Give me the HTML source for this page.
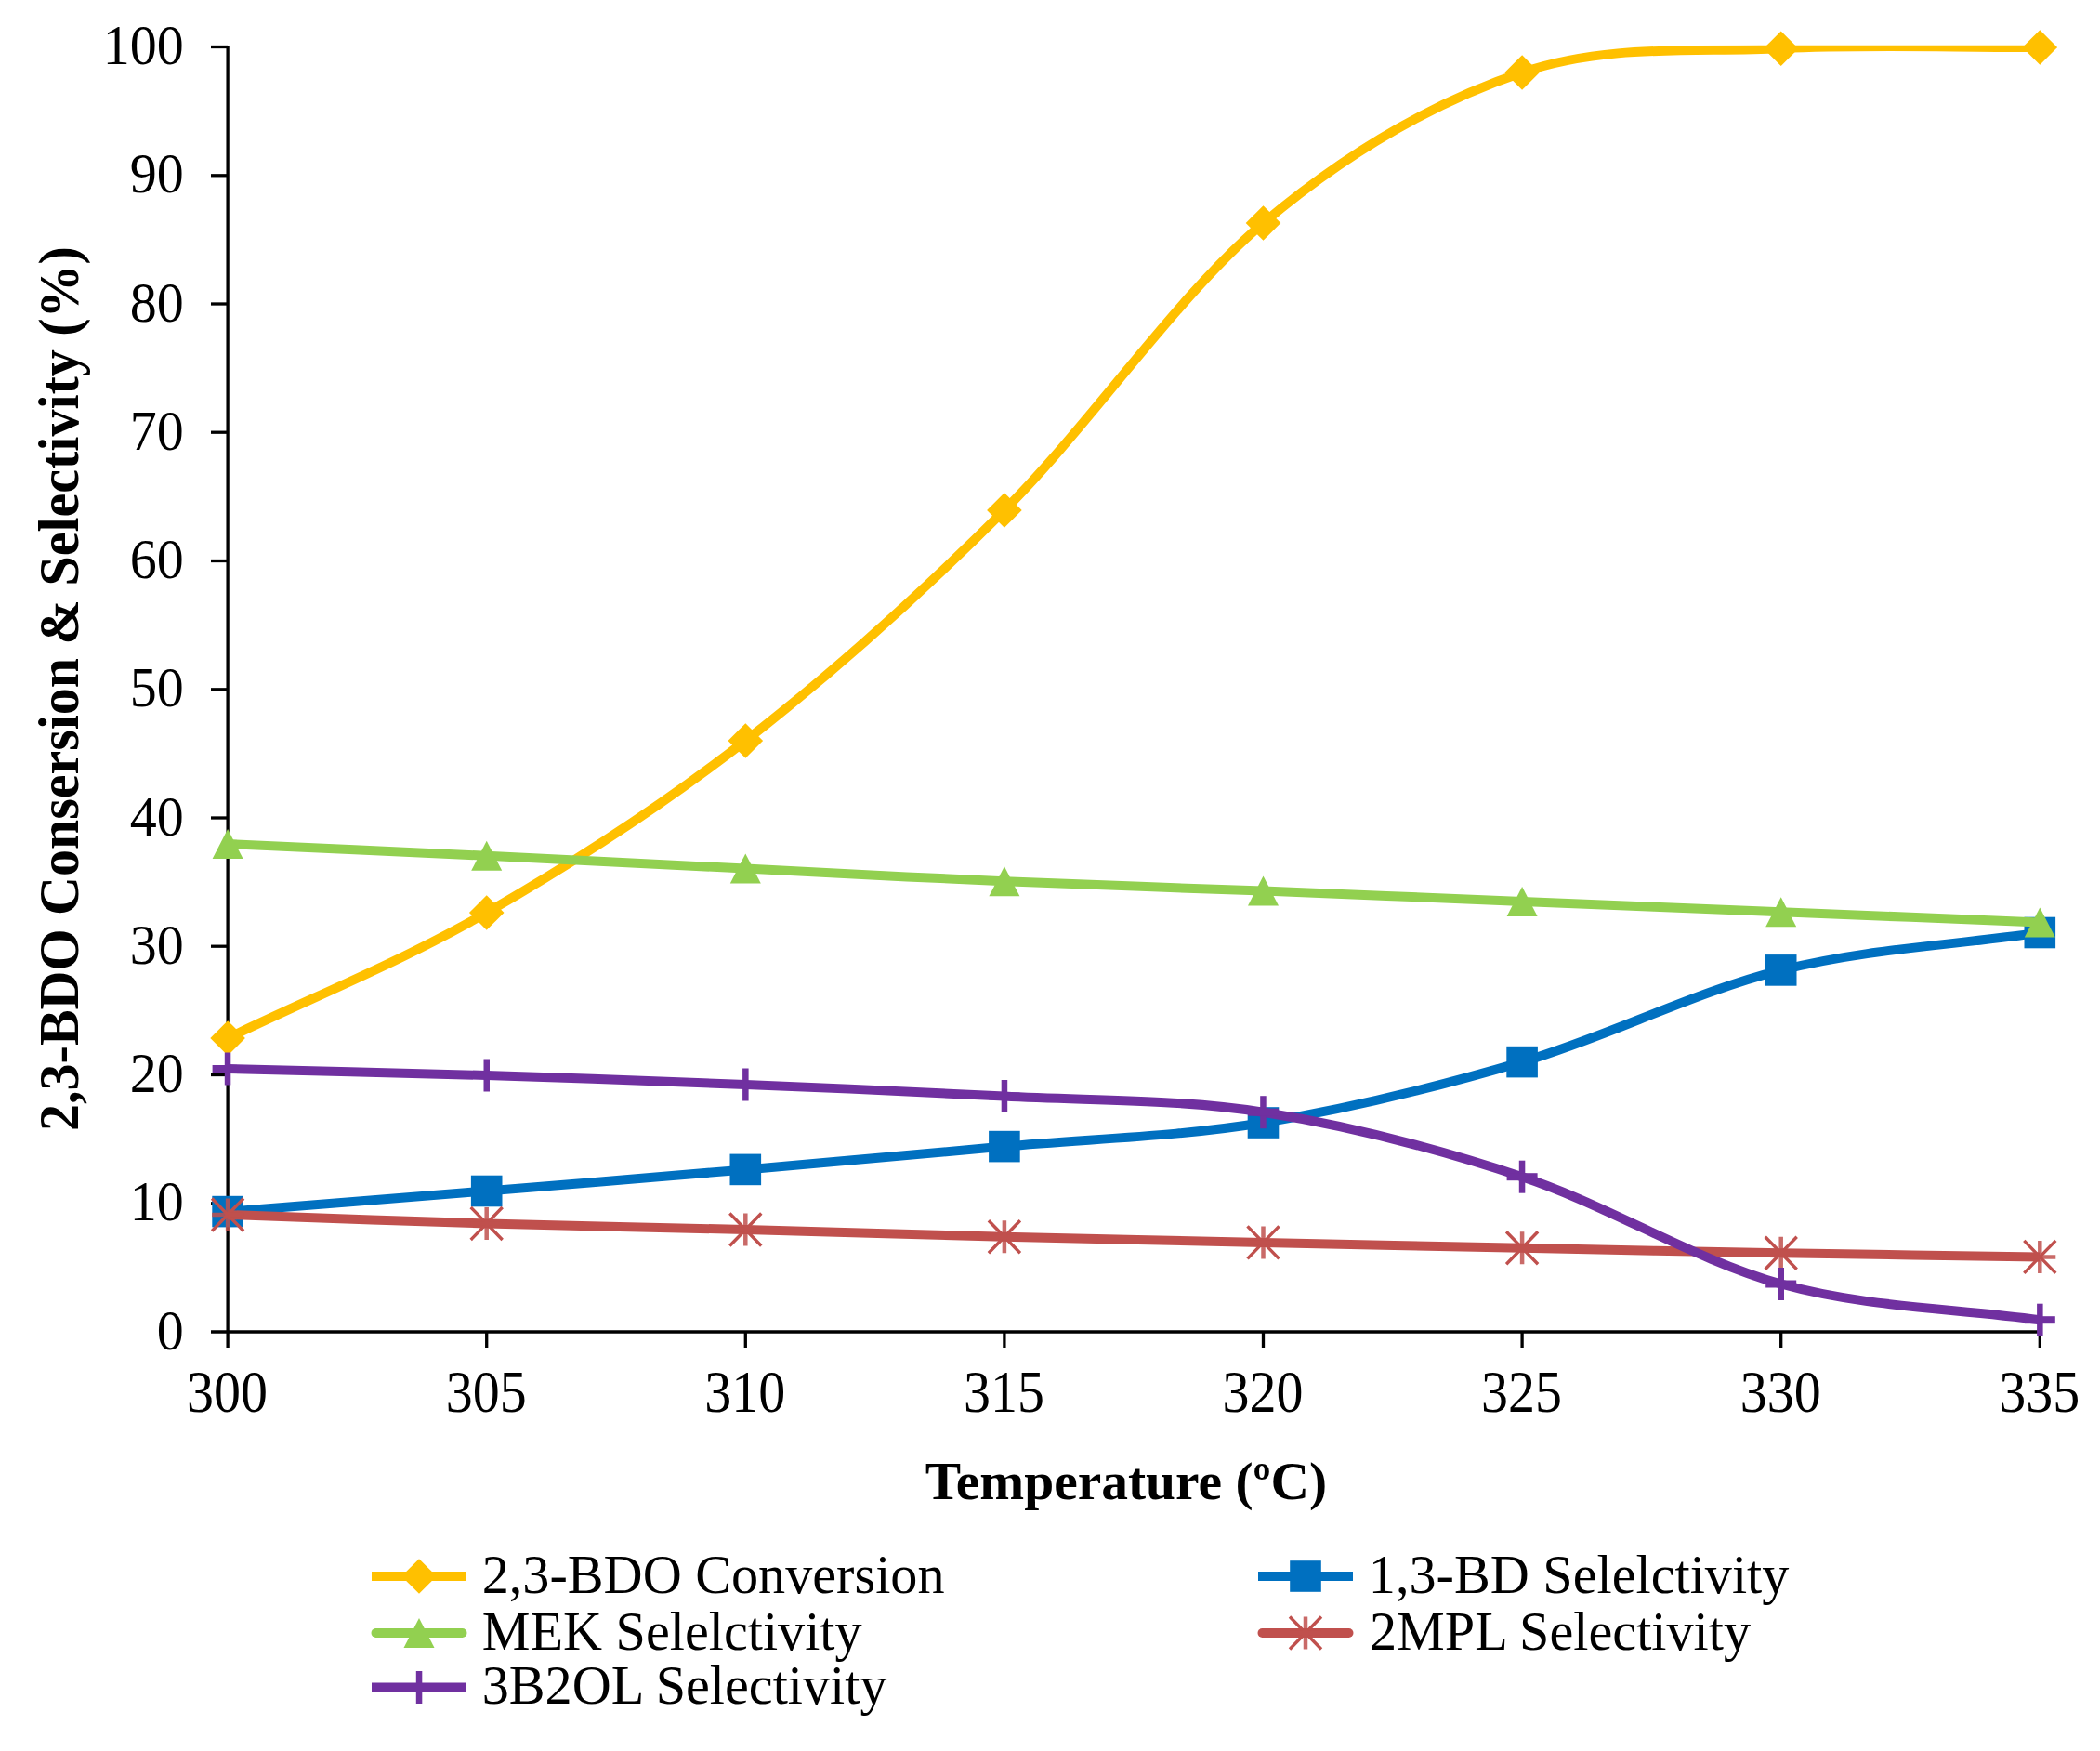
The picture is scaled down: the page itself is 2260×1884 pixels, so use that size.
<!DOCTYPE html>
<html><head><meta charset="utf-8"><title>Chart</title>
<style>
html,body{margin:0;padding:0;background:#fff;}
body{width:2260px;height:1884px;overflow:hidden;}
svg{display:block;font-family:"Liberation Serif",serif;font-size:58px;fill:#000;}
.b{font-weight:bold;}
</style></head><body>
<svg width="2260" height="1884" viewBox="0 0 2260 1884">
<rect width="2260" height="1884" fill="#fff"/>

<defs><clipPath id="plot"><rect x="245.1" y="48.7" width="1950.2" height="1385.8"/></clipPath></defs>
<g stroke="#000" stroke-width="3.3" fill="none">
<path d="M245.1,48.9 V1450.0"/>
<path d="M227,1433.0 H2196.9"/>
<path d="M227,1294.8 H245.1"/>
<path d="M227,1156.5 H245.1"/>
<path d="M227,1018.2 H245.1"/>
<path d="M227,880.0 H245.1"/>
<path d="M227,741.8 H245.1"/>
<path d="M227,603.5 H245.1"/>
<path d="M227,465.2 H245.1"/>
<path d="M227,327.0 H245.1"/>
<path d="M227,188.8 H245.1"/>
<path d="M227,50.5 H245.1"/>
<path d="M523.7,1433.0 V1450.0"/>
<path d="M802.3,1433.0 V1450.0"/>
<path d="M1080.9,1433.0 V1450.0"/>
<path d="M1359.5,1433.0 V1450.0"/>
<path d="M1638.1,1433.0 V1450.0"/>
<path d="M1916.7,1433.0 V1450.0"/>
<path d="M2195.3,1433.0 V1450.0"/>
</g>
<g text-anchor="end">
<text transform="translate(197.8,1451.6) scale(1,1.04)">0</text>
<text transform="translate(197.8,1313.3) scale(1,1.04)">10</text>
<text transform="translate(197.8,1175.1) scale(1,1.04)">20</text>
<text transform="translate(197.8,1036.8) scale(1,1.04)">30</text>
<text transform="translate(197.8,898.6) scale(1,1.04)">40</text>
<text transform="translate(197.8,760.4) scale(1,1.04)">50</text>
<text transform="translate(197.8,622.1) scale(1,1.04)">60</text>
<text transform="translate(197.8,483.9) scale(1,1.04)">70</text>
<text transform="translate(197.8,345.6) scale(1,1.04)">80</text>
<text transform="translate(197.8,207.3) scale(1,1.04)">90</text>
<text transform="translate(197.8,69.1) scale(1,1.04)">100</text>
</g>
<g text-anchor="middle">
<text transform="translate(244.6,1519) scale(1,1.1)">300</text>
<text transform="translate(523.2,1519) scale(1,1.1)">305</text>
<text transform="translate(801.8,1519) scale(1,1.1)">310</text>
<text transform="translate(1080.4,1519) scale(1,1.1)">315</text>
<text transform="translate(1359.0,1519) scale(1,1.1)">320</text>
<text transform="translate(1637.6,1519) scale(1,1.1)">325</text>
<text transform="translate(1916.2,1519) scale(1,1.1)">330</text>
<text transform="translate(2194.8,1519) scale(1,1.1)">335</text>
</g>
<text class="b" text-anchor="middle" transform="translate(83.8,741) rotate(-90) scale(1,1.06)">2,3-BDO Consersion &amp; Selectivity (%)</text>
<text class="b" text-anchor="middle" x="1212" y="1612.5" style="font-size:57.5px">Temperature (ºC)</text>
<path d="M245.1,1117.0 C338.0,1072.0 430.8,1035.3 523.7,982.0 C616.6,928.7 709.4,869.2 802.3,797.0 C895.2,724.8 988.0,641.8 1080.9,549.0 C1173.8,456.2 1266.6,318.5 1359.5,240.0 C1452.4,161.5 1545.2,109.3 1638.1,78.0 C1731.0,46.7 1823.8,56.7 1916.7,52.2 C2009.6,47.7 2102.4,51.4 2195.3,51.0" stroke="#FFC000" stroke-width="10" fill="none" stroke-linejoin="round" clip-path="url(#plot)"/>
<path d="M245.1,1098.2 L263.9,1117.0 L245.1,1135.8 L226.3,1117.0Z" fill="#FFC000"/>
<path d="M523.7,963.2 L542.5,982.0 L523.7,1000.8 L504.9,982.0Z" fill="#FFC000"/>
<path d="M802.3,778.2 L821.1,797.0 L802.3,815.8 L783.5,797.0Z" fill="#FFC000"/>
<path d="M1080.9,530.2 L1099.7,549.0 L1080.9,567.8 L1062.1,549.0Z" fill="#FFC000"/>
<path d="M1359.5,221.2 L1378.3,240.0 L1359.5,258.8 L1340.7,240.0Z" fill="#FFC000"/>
<path d="M1638.1,59.2 L1656.9,78.0 L1638.1,96.8 L1619.3,78.0Z" fill="#FFC000"/>
<path d="M1916.7,33.4 L1935.5,52.2 L1916.7,71.0 L1897.9,52.2Z" fill="#FFC000"/>
<path d="M2195.3,32.2 L2214.1,51.0 L2195.3,69.8 L2176.5,51.0Z" fill="#FFC000"/>
<path d="M245.1,1303.6 C338.0,1296.2 430.8,1289.0 523.7,1281.5 C616.6,1274.0 709.4,1266.4 802.3,1258.4 C895.2,1250.4 988.0,1242.0 1080.9,1233.6 C1173.8,1225.2 1266.6,1223.2 1359.5,1208.0 C1452.4,1192.8 1545.2,1169.9 1638.1,1142.6 C1731.0,1115.2 1823.8,1067.1 1916.7,1043.9 C2009.6,1020.7 2102.4,1017.0 2195.3,1003.5" stroke="#0070C0" stroke-width="10" fill="none" stroke-linejoin="round" clip-path="url(#plot)"/>
<rect x="228.3" y="1286.8" width="33.6" height="33.6" fill="#0070C0"/>
<rect x="506.9" y="1264.7" width="33.6" height="33.6" fill="#0070C0"/>
<rect x="785.5" y="1241.6" width="33.6" height="33.6" fill="#0070C0"/>
<rect x="1064.1" y="1216.8" width="33.6" height="33.6" fill="#0070C0"/>
<rect x="1342.7" y="1191.2" width="33.6" height="33.6" fill="#0070C0"/>
<rect x="1621.3" y="1125.8" width="33.6" height="33.6" fill="#0070C0"/>
<rect x="1899.9" y="1027.1" width="33.6" height="33.6" fill="#0070C0"/>
<rect x="2178.5" y="986.7" width="33.6" height="33.6" fill="#0070C0"/>
<path d="M245.1,908.0 C338.0,912.3 430.8,916.4 523.7,920.8 C616.6,925.2 709.4,930.0 802.3,934.6 C895.2,939.2 988.0,944.3 1080.9,948.3 C1173.8,952.3 1266.6,955.0 1359.5,958.6 C1452.4,962.2 1545.2,966.2 1638.1,970.0 C1731.0,973.8 1823.8,977.5 1916.7,981.2 C2009.6,985.0 2102.4,988.7 2195.3,992.5" stroke="#92D050" stroke-width="10" fill="none" stroke-linejoin="round" clip-path="url(#plot)"/>
<path d="M245.1,892.0 L261.6,924.0 L228.6,924.0Z" fill="#92D050"/>
<path d="M523.7,904.8 L540.2,936.8 L507.2,936.8Z" fill="#92D050"/>
<path d="M802.3,918.6 L818.8,950.6 L785.8,950.6Z" fill="#92D050"/>
<path d="M1080.9,932.3 L1097.4,964.3 L1064.4,964.3Z" fill="#92D050"/>
<path d="M1359.5,942.6 L1376.0,974.6 L1343.0,974.6Z" fill="#92D050"/>
<path d="M1638.1,954.0 L1654.6,986.0 L1621.6,986.0Z" fill="#92D050"/>
<path d="M1916.7,965.2 L1933.2,997.2 L1900.2,997.2Z" fill="#92D050"/>
<path d="M2195.3,976.5 L2211.8,1008.5 L2178.8,1008.5Z" fill="#92D050"/>
<path d="M245.1,1307.0 C338.0,1310.2 430.8,1313.8 523.7,1316.5 C616.6,1319.2 709.4,1320.6 802.3,1323.0 C895.2,1325.4 988.0,1328.5 1080.9,1330.8 C1173.8,1333.1 1266.6,1334.9 1359.5,1336.9 C1452.4,1338.9 1545.2,1340.9 1638.1,1342.8 C1731.0,1344.7 1823.8,1346.7 1916.7,1348.3 C2009.6,1349.9 2102.4,1351.0 2195.3,1352.4" stroke="#C0504D" stroke-width="10" fill="none" stroke-linejoin="round" clip-path="url(#plot)"/>
<path d="M228.1,1289.5 L262.1,1324.5 M262.1,1289.5 L228.1,1324.5" stroke="#C0504D" stroke-width="3.4" fill="none"/><path d="M245.1,1289.5 L245.1,1324.5 M228.1,1307.0 L262.1,1307.0" stroke="#C0504D" stroke-width="4.5" stroke-opacity="0.85" fill="none"/>
<path d="M506.7,1299.0 L540.7,1334.0 M540.7,1299.0 L506.7,1334.0" stroke="#C0504D" stroke-width="3.4" fill="none"/><path d="M523.7,1299.0 L523.7,1334.0 M506.7,1316.5 L540.7,1316.5" stroke="#C0504D" stroke-width="4.5" stroke-opacity="0.85" fill="none"/>
<path d="M785.3,1305.5 L819.3,1340.5 M819.3,1305.5 L785.3,1340.5" stroke="#C0504D" stroke-width="3.4" fill="none"/><path d="M802.3,1305.5 L802.3,1340.5 M785.3,1323.0 L819.3,1323.0" stroke="#C0504D" stroke-width="4.5" stroke-opacity="0.85" fill="none"/>
<path d="M1063.9,1313.3 L1097.9,1348.3 M1097.9,1313.3 L1063.9,1348.3" stroke="#C0504D" stroke-width="3.4" fill="none"/><path d="M1080.9,1313.3 L1080.9,1348.3 M1063.9,1330.8 L1097.9,1330.8" stroke="#C0504D" stroke-width="4.5" stroke-opacity="0.85" fill="none"/>
<path d="M1342.5,1319.4 L1376.5,1354.4 M1376.5,1319.4 L1342.5,1354.4" stroke="#C0504D" stroke-width="3.4" fill="none"/><path d="M1359.5,1319.4 L1359.5,1354.4 M1342.5,1336.9 L1376.5,1336.9" stroke="#C0504D" stroke-width="4.5" stroke-opacity="0.85" fill="none"/>
<path d="M1621.1,1325.3 L1655.1,1360.3 M1655.1,1325.3 L1621.1,1360.3" stroke="#C0504D" stroke-width="3.4" fill="none"/><path d="M1638.1,1325.3 L1638.1,1360.3 M1621.1,1342.8 L1655.1,1342.8" stroke="#C0504D" stroke-width="4.5" stroke-opacity="0.85" fill="none"/>
<path d="M1899.7,1330.8 L1933.7,1365.8 M1933.7,1330.8 L1899.7,1365.8" stroke="#C0504D" stroke-width="3.4" fill="none"/><path d="M1916.7,1330.8 L1916.7,1365.8 M1899.7,1348.3 L1933.7,1348.3" stroke="#C0504D" stroke-width="4.5" stroke-opacity="0.85" fill="none"/>
<path d="M2178.3,1334.9 L2212.3,1369.9 M2212.3,1334.9 L2178.3,1369.9" stroke="#C0504D" stroke-width="3.4" fill="none"/><path d="M2195.3,1334.9 L2195.3,1369.9 M2178.3,1352.4 L2212.3,1352.4" stroke="#C0504D" stroke-width="4.5" stroke-opacity="0.85" fill="none"/>
<path d="M245.1,1150.0 C338.0,1152.3 430.8,1154.2 523.7,1157.0 C616.6,1159.8 709.4,1163.2 802.3,1167.0 C895.2,1170.8 988.0,1174.5 1080.9,1179.5 C1173.8,1184.5 1266.6,1182.2 1359.5,1196.7 C1452.4,1211.2 1545.2,1235.4 1638.1,1266.2 C1731.0,1297.0 1823.8,1355.8 1916.7,1381.5 C2009.6,1407.2 2102.4,1407.3 2195.3,1420.2" stroke="#7030A0" stroke-width="10" fill="none" stroke-linejoin="round" clip-path="url(#plot)"/>
<rect x="241.8" y="1132.5" width="6.5" height="35.0" fill="#7030A0"/><rect x="228.6" y="1146.0" width="33.0" height="8" fill="#7030A0"/>
<rect x="520.5" y="1139.5" width="6.5" height="35.0" fill="#7030A0"/><rect x="507.2" y="1153.0" width="33.0" height="8" fill="#7030A0"/>
<rect x="799.1" y="1149.5" width="6.5" height="35.0" fill="#7030A0"/><rect x="785.8" y="1163.0" width="33.0" height="8" fill="#7030A0"/>
<rect x="1077.7" y="1162.0" width="6.5" height="35.0" fill="#7030A0"/><rect x="1064.4" y="1175.5" width="33.0" height="8" fill="#7030A0"/>
<rect x="1356.2" y="1179.2" width="6.5" height="35.0" fill="#7030A0"/><rect x="1343.0" y="1192.7" width="33.0" height="8" fill="#7030A0"/>
<rect x="1634.8" y="1248.7" width="6.5" height="35.0" fill="#7030A0"/><rect x="1621.6" y="1262.2" width="33.0" height="8" fill="#7030A0"/>
<rect x="1913.5" y="1364.0" width="6.5" height="35.0" fill="#7030A0"/><rect x="1900.2" y="1377.5" width="33.0" height="8" fill="#7030A0"/>
<rect x="2192.1" y="1402.7" width="6.5" height="35.0" fill="#7030A0"/><rect x="2178.8" y="1416.2" width="33.0" height="8" fill="#7030A0"/>
<path d="M400,1696 H502" stroke="#FFC000" stroke-width="10" fill="none"/>
<path d="M451.0,1677.2 L469.8,1696.0 L451.0,1714.8 L432.2,1696.0Z" fill="#FFC000"/>
<text x="518.7" y="1714.3" style="font-size:58.2px">2,3-BDO Conversion</text>
<path d="M404.5,1757 H497.5" stroke="#92D050" stroke-width="10" stroke-linecap="round" fill="none"/>
<path d="M451.0,1741.0 L467.5,1773.0 L434.5,1773.0Z" fill="#92D050"/>
<text x="518.7" y="1774.5" style="font-size:58.2px">MEK Selelctivity</text>
<path d="M400,1815.5 H502" stroke="#7030A0" stroke-width="10" fill="none"/>
<rect x="447.8" y="1798.0" width="6.5" height="35.0" fill="#7030A0"/><rect x="434.5" y="1811.5" width="33.0" height="8" fill="#7030A0"/>
<text x="518.7" y="1833.2" style="font-size:58.2px">3B2OL Selectivity</text>
<path d="M1354,1696 H1456" stroke="#0070C0" stroke-width="10" fill="none"/>
<rect x="1388.2" y="1679.2" width="33.6" height="33.6" fill="#0070C0"/>
<text x="1472.8" y="1714.3" style="font-size:58.2px">1,3-BD Selelctivity</text>
<path d="M1358.5,1757 H1451.5" stroke="#C0504D" stroke-width="10" stroke-linecap="round" fill="none"/>
<path d="M1388.0,1739.5 L1422.0,1774.5 M1422.0,1739.5 L1388.0,1774.5" stroke="#C0504D" stroke-width="3.4" fill="none"/><path d="M1405.0,1739.5 L1405.0,1774.5 M1388.0,1757.0 L1422.0,1757.0" stroke="#C0504D" stroke-width="4.5" stroke-opacity="0.85" fill="none"/>
<text x="1474" y="1774.5" style="font-size:58.2px">2MPL Selectivity</text>
</svg></body></html>
